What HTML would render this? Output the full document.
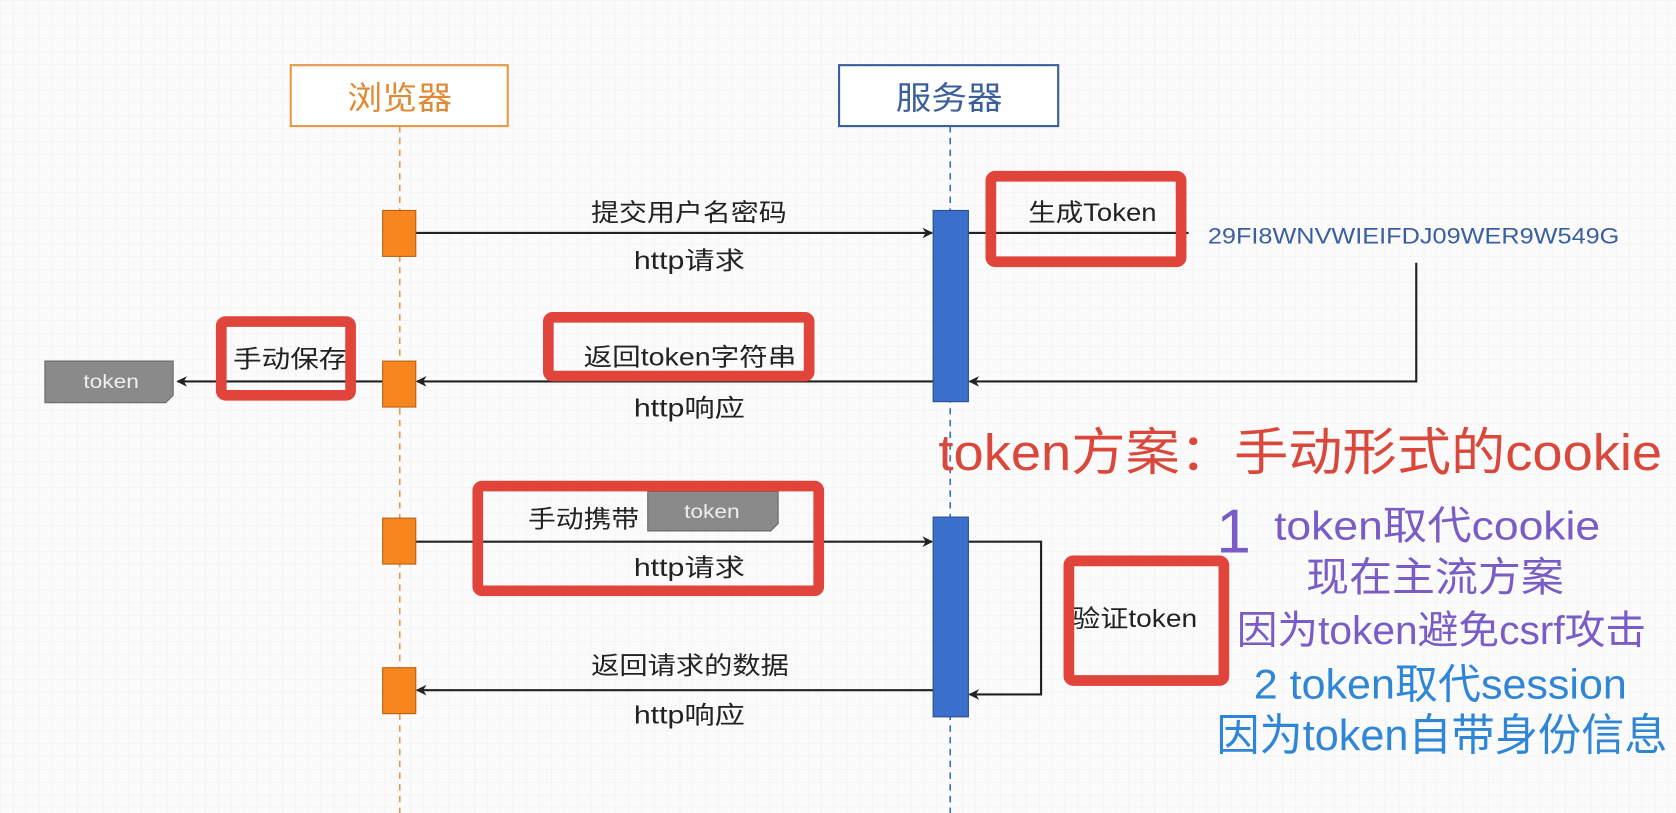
<!DOCTYPE html>
<html><head><meta charset="utf-8"><style>
html,body{margin:0;padding:0;background:#fafafa;}
svg{display:block;}
text{font-family:"Liberation Sans","Noto Sans CJK SC",sans-serif;}
</style></head><body>
<svg width="1676" height="813" viewBox="0 0 1568 761" preserveAspectRatio="none" xmlns="http://www.w3.org/2000/svg">
<defs>
<pattern id="g" width="12" height="12" patternUnits="userSpaceOnUse"><path d="M12 0H0V12" fill="none" stroke="#efefef" stroke-width="1"/></pattern>
<marker id="a" markerWidth="10" markerHeight="10" refX="9" refY="5" orient="auto" markerUnits="userSpaceOnUse"><path d="M0,0 L10,5 L0,10 L3,5z" fill="#222"/></marker>
</defs>
<rect width="1568" height="761" fill="#fbfbfb"/>
<rect width="1568" height="761" fill="url(#g)"/>
<rect x="272" y="61" width="203" height="57" fill="#fff" stroke="#e59a4a" stroke-width="2"/>
<text x="325" y="102" font-size="30" fill="#e08a35" textLength="98" lengthAdjust="spacingAndGlyphs">浏览器</text>
<rect x="785" y="61" width="205" height="57" fill="#fff" stroke="#3a5f9a" stroke-width="2"/>
<text x="838" y="102" font-size="30" fill="#3a5f9a" textLength="100" lengthAdjust="spacingAndGlyphs">服务器</text>
<line x1="374" y1="118" x2="374" y2="761" stroke="#e59a4a" stroke-width="1.5" stroke-dasharray="6,5"/>
<line x1="889" y1="118" x2="889" y2="761" stroke="#3a6fc0" stroke-width="1.5" stroke-dasharray="6,5"/>
<g stroke="#222" stroke-width="2" fill="none">
<line x1="389" y1="218" x2="872" y2="218" marker-end="url(#a)"/>
<line x1="906" y1="218" x2="1112" y2="218"/>
<polyline points="1325,246 1325,357 907,357" marker-end="url(#a)"/>
<line x1="873" y1="357" x2="390" y2="357" marker-end="url(#a)"/>
<line x1="358" y1="357" x2="166" y2="357" marker-end="url(#a)"/>
<line x1="389" y1="507" x2="872" y2="507" marker-end="url(#a)"/>
<polyline points="906,507 974,507 974,650 907,650" marker-end="url(#a)"/>
<line x1="873" y1="646" x2="390" y2="646" marker-end="url(#a)"/>
</g>
<g fill="#f7861e" stroke="#b85e10" stroke-width="1">
<rect x="358" y="197" width="31" height="43"/>
<rect x="358" y="338" width="31" height="43"/>
<rect x="358" y="485" width="31" height="43"/>
<rect x="358" y="625" width="31" height="43"/>
</g>
<g fill="#3a6fcc" stroke="#2a4f90" stroke-width="1">
<rect x="873" y="197" width="33" height="179"/>
<rect x="873" y="484" width="33" height="187"/>
</g>
<g font-size="23" fill="#222" lengthAdjust="spacingAndGlyphs">
<text x="553" y="207" textLength="183" lengthAdjust="spacingAndGlyphs">提交用户名密码</text>
<text x="593" y="252" textLength="104" lengthAdjust="spacingAndGlyphs">http请求</text>
<text x="546" y="342" textLength="199" lengthAdjust="spacingAndGlyphs">返回token字符串</text>
<text x="593" y="390" textLength="104" lengthAdjust="spacingAndGlyphs">http响应</text>
<text x="553" y="631" textLength="185" lengthAdjust="spacingAndGlyphs">返回请求的数据</text>
<text x="593" y="677" textLength="104" lengthAdjust="spacingAndGlyphs">http响应</text>
<text x="593" y="539" textLength="104" lengthAdjust="spacingAndGlyphs">http请求</text>
<text x="962" y="207" textLength="120" lengthAdjust="spacingAndGlyphs">生成Token</text>
<text x="218" y="344" textLength="107" lengthAdjust="spacingAndGlyphs">手动保存</text>
<text x="1003" y="587" textLength="117" lengthAdjust="spacingAndGlyphs">验证token</text>
<text x="494" y="494" textLength="104" lengthAdjust="spacingAndGlyphs">手动携带</text>
</g>
<text x="1130" y="228" font-size="21" fill="#3a5fa0" textLength="385" lengthAdjust="spacingAndGlyphs">29FI8WNVWIEIFDJ09WER9W549G</text>
<path d="M42,338 H162 V370 L155,377 H42Z" fill="#8a8a8a" stroke="#666"/>
<text x="78" y="363" font-size="18" fill="#eee" textLength="52" lengthAdjust="spacingAndGlyphs">token</text>
<path d="M606,460 H728 V490 L721,497 H606Z" fill="#8a8a8a" stroke="#666"/>
<text x="640" y="485" font-size="18" fill="#eee" textLength="52" lengthAdjust="spacingAndGlyphs">token</text>
<g fill="none" stroke="#e0443a" stroke-width="10">
<rect x="927" y="165" width="178" height="80" rx="4"/>
<rect x="513" y="297" width="244" height="55" rx="4"/>
<rect x="207" y="301" width="121" height="69" rx="4"/>
<rect x="447" y="455" width="319" height="98" rx="4"/>
<rect x="1000" y="525" width="145" height="112" rx="4"/>
</g>
<text x="878" y="440" font-size="48" fill="#d9483b" textLength="677" lengthAdjust="spacingAndGlyphs">token方案：手动形式的cookie</text>
<text x="1138" y="517" font-size="58" fill="#7a5cc6">1</text>
<g lengthAdjust="spacingAndGlyphs">
<text x="1192" y="505" font-size="37" fill="#7a5cc6" textLength="305" lengthAdjust="spacingAndGlyphs">token取代cookie</text>
<text x="1222" y="553" font-size="38" fill="#7a5cc6" textLength="241" lengthAdjust="spacingAndGlyphs">现在主流方案</text>
<text x="1157" y="603" font-size="37" fill="#7a5cc6" textLength="383" lengthAdjust="spacingAndGlyphs">因为token避免csrf攻击</text>
<text x="1173" y="654" font-size="39" fill="#2f86d6" textLength="349" lengthAdjust="spacingAndGlyphs">2 token取代session</text>
<text x="1138" y="702" font-size="41" fill="#2f86d6" textLength="422" lengthAdjust="spacingAndGlyphs">因为token自带身份信息</text>
</g>
</svg>
</body></html>
